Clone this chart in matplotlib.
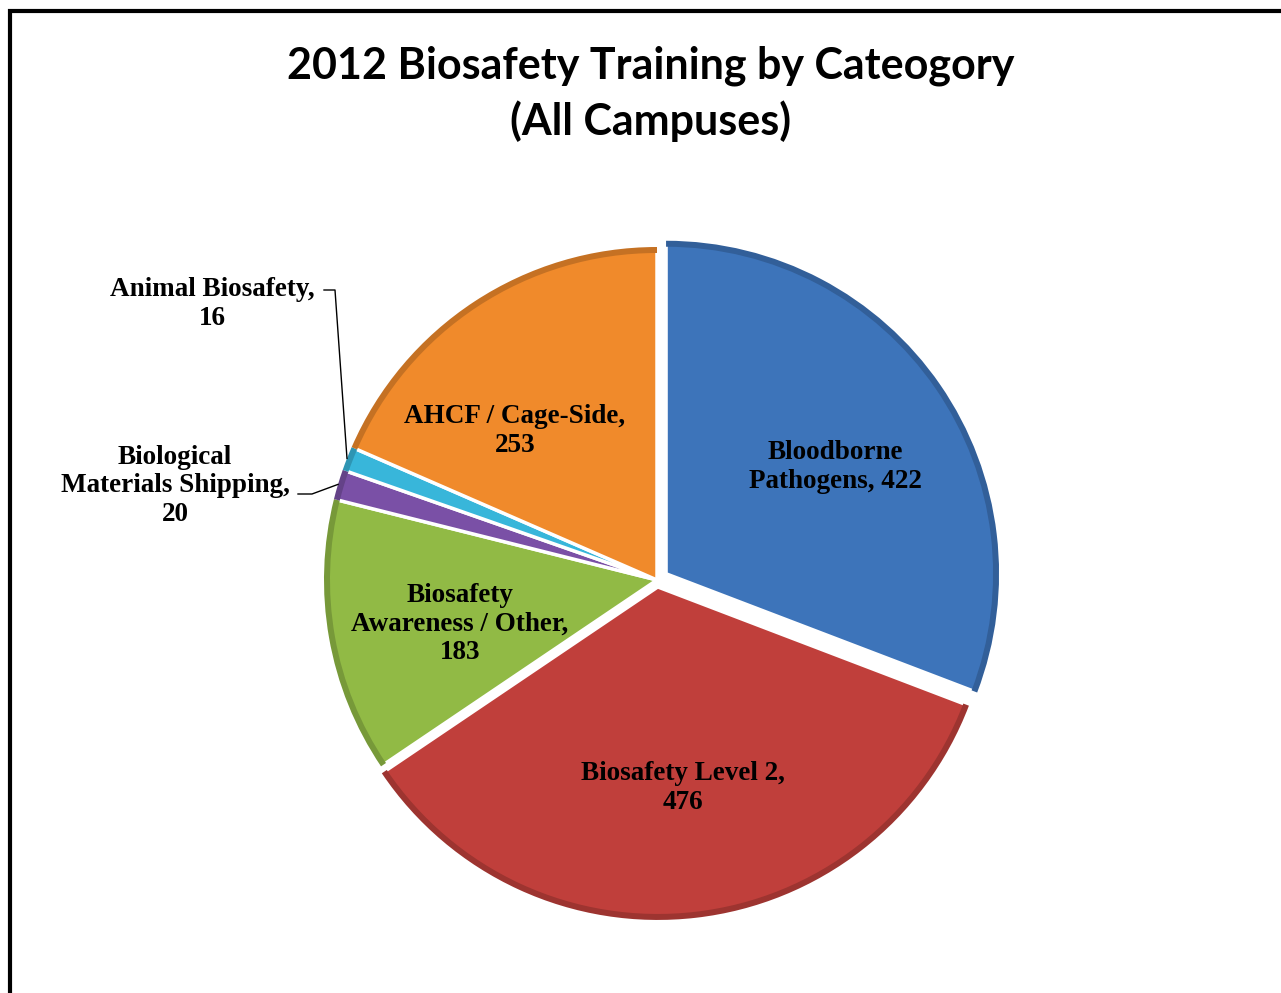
import matplotlib
matplotlib.use('Agg')
import matplotlib.pyplot as plt
import matplotlib.patches as mpatches
import numpy as np

# data
categories = ['Bloodborne\nPathogens', 'Biosafety Level 2,\n', 'Biosafety\nAwareness / Other,\n',
              'Biological\nMaterials Shipping,\n', 'Animal Biosafety,\n', 'AHCF / Cage-Side,\n']
values = [422, 476, 183, 20, 16, 253]
colors = ['#3D74BA', '#C03F3B', '#91BA45', '#7A50A6', '#38B6DA', '#F08A2B']
explode = [11, 7, 0, 0, 0, 0]   # offsets in pixels (data units here)

W, H = 1281, 993
fig = plt.figure(figsize=(W / 100, H / 100), dpi=100)
ax = fig.add_axes([0, 0, 1, 1])

# outer frame (right and bottom edges run off the picture)
fig.patches.append(mpatches.Rectangle((10 / W, -0.05), 1.1, (H - 11) / H + 0.05,
                                      transform=fig.transFigure, fill=False,
                                      edgecolor='black', linewidth=3, zorder=0))

cx, cy, R = 657, H - 580, 333
wedges, _ = ax.pie(values, colors=colors, explode=explode, startangle=90, counterclock=False,
                   center=(cx, cy), radius=R, frame=True,
                   wedgeprops=dict(edgecolor='white', linewidth=2.5))
ax.set_xlim(0, W)
ax.set_ylim(0, H)
ax.set_aspect('equal')
ax.axis('off')

# thin darker rim to suggest the bevel
for w in wedges:
    fc = np.array(matplotlib.colors.to_rgb(w.get_facecolor()))
    rim = mpatches.Wedge(w.center, w.r, w.theta1, w.theta2, width=w.r * 0.018,
                         facecolor=fc * 0.82, edgecolor='none', zorder=w.get_zorder() + 0.1)
    ax.add_patch(rim)

lab_font = dict(family='Liberation Serif', fontweight='bold', fontsize=19.5, ha='center',
                va='center', linespacing=1.2)

label_pos = [(835, 467), (683, 788), (460, 624), (175, 486), (212, 304), (515, 431)]
for name, v, (px, py) in zip(categories, values, label_pos):
    txt = name + str(v) if name.endswith('\n') else name + ', ' + str(v)
    ax.text(px, H - py, txt, **lab_font)

# leader lines for the two thin slices
def edge_point(w):
    a = np.deg2rad((w.theta1 + w.theta2) / 2)
    return w.center[0] + w.r * np.cos(a), w.center[1] + w.r * np.sin(a)

ex, ey = edge_point(wedges[4])
ax.plot([324, 335, ex], [H - 290, H - 290, ey], color='black', lw=1)
ex, ey = edge_point(wedges[3])
ax.plot([298, 312, ex], [H - 494, H - 494, ey], color='black', lw=1)

fig.text(0.508, 1 - 94 / H, '2012 Biosafety Training by Cateogory\n(All Campuses)',
         ha='center', va='center', fontsize=31, fontweight='bold', family='Lato',
         linespacing=1.4)

fig.savefig('out.png', dpi=100)
